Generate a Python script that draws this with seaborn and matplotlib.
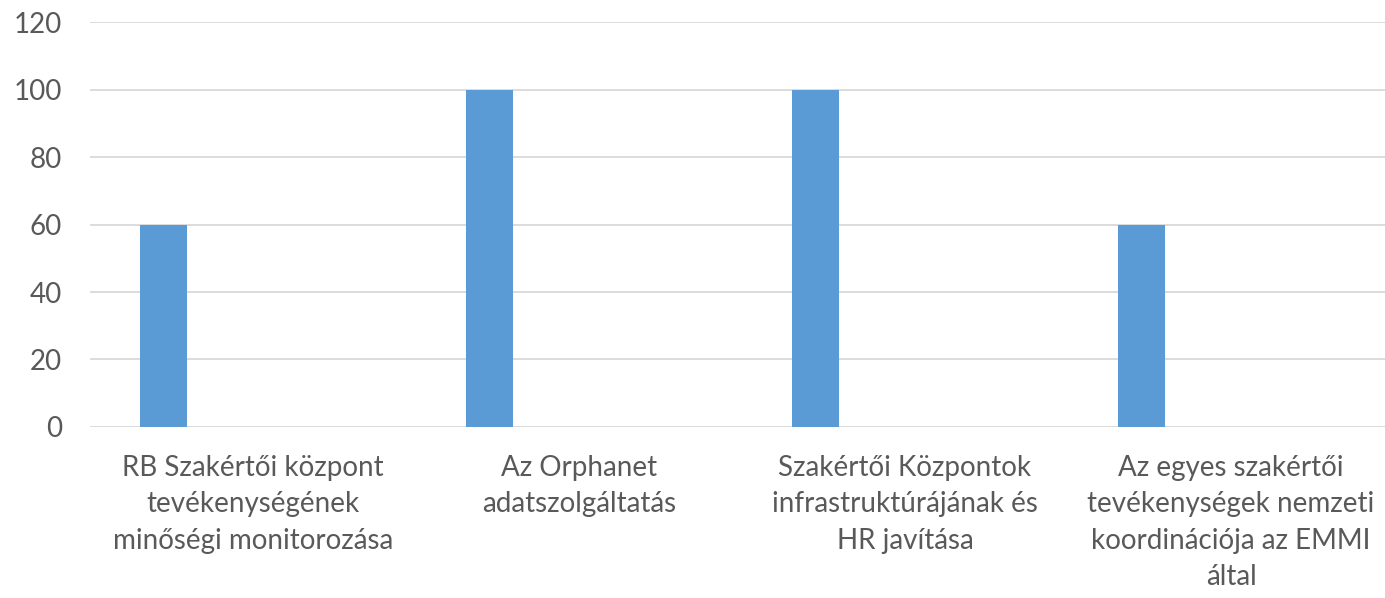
import numpy as np
import pandas as pd
import seaborn as sns
import matplotlib.pyplot as plt

categories = [
    "RB Szakértői központ\ntevékenységének\nminőségi monitorozása",
    "Az Orphanet\nadatszolgáltatás",
    "Szakértői Központok\ninfrastruktúrájának és\nHR javítása",
    "Az egyes szakértői\ntevékenységek nemzeti\nkoordinációja az EMMI\náltal",
]
values = [60, 100, 100, 60]
# az eredeti diagramon több sorozat volt, csak az első van kitöltve
series = ["S1", "S2", "S3", "S4"]

rows = []
for s in series:
    for c, v in zip(categories, values):
        rows.append({"kategoria": c, "sorozat": s, "ertek": v if s == "S1" else np.nan})
df = pd.DataFrame(rows)

sns.set_style("white")
plt.rcParams["font.family"] = ["Lato", "DejaVu Sans"]

fig = plt.figure(figsize=(13.85, 5.98), dpi=100)
ax = fig.add_axes([0.065, 0.286, 0.9415, 0.677])

sns.barplot(data=df, x="kategoria", y="ertek", hue="sorozat", hue_order=series,
            palette={s: "#5B9BD5" for s in series}, saturation=1, width=0.732,
            dodge=True, gap=0.21, linewidth=0, errorbar=None, legend=False, ax=ax)

ax.set_ylim(0, 120)
ax.set_yticks(range(0, 121, 20))
ax.yaxis.grid(True, color="#D9D9D9", linewidth=1.3)
ax.set_axisbelow(True)
for s in ax.spines.values():
    s.set_visible(False)
ax.set_xlabel("")
ax.set_ylabel("")
ax.tick_params(axis="y", length=0, pad=20, labelsize=20, labelcolor="#595959")
ax.tick_params(axis="x", length=0, pad=20, labelsize=20, labelcolor="#595959")
for lbl in ax.get_xticklabels():
    lbl.set_multialignment("center")
    lbl.set_linespacing(1.5)

plt.savefig("out.png")
plt.close()
